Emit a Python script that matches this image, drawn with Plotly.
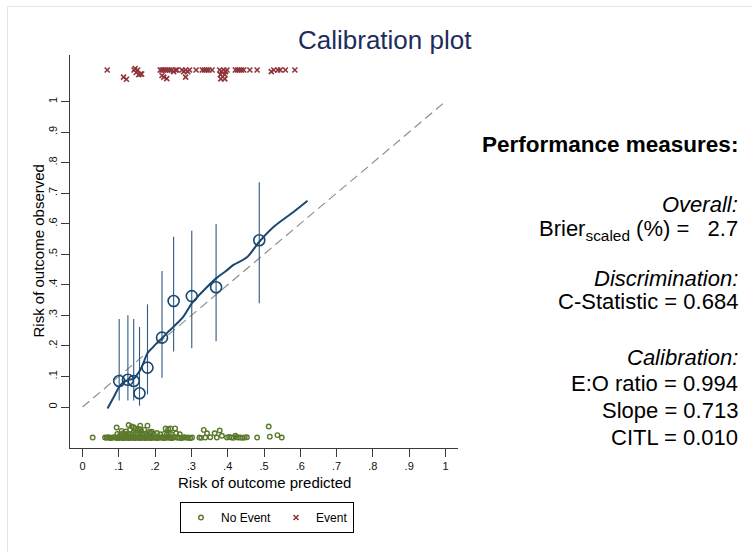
import plotly.graph_objects as go

W, H = 752, 552
FONT = "Liberation Sans, Arial, Helvetica, sans-serif"

# Grouped calibration points: mean predicted risk, observed proportion, 95% CI
group_pred = [0.101, 0.125, 0.141, 0.157, 0.179, 0.219, 0.251, 0.301, 0.368, 0.487]
group_obs = [0.085, 0.089, 0.085, 0.045, 0.129, 0.227, 0.347, 0.363, 0.392, 0.546]
group_lo = [0.021, 0.021, 0.021, 0.004, 0.041, 0.096, 0.182, 0.192, 0.215, 0.340]
group_hi = [0.288, 0.300, 0.288, 0.262, 0.336, 0.445, 0.557, 0.577, 0.599, 0.736]

# Lowess-smoothed calibration curve
smooth_x = [0.069, 0.085, 0.101, 0.113, 0.125, 0.141, 0.150, 0.159, 0.169, 0.179,
            0.195, 0.207, 0.219, 0.235, 0.251, 0.278, 0.301, 0.318, 0.335, 0.368,
            0.395, 0.416, 0.453, 0.487, 0.527, 0.582, 0.620]
smooth_y = [-0.005, 0.030, 0.066, 0.082, 0.088, 0.093, 0.105, 0.121, 0.148, 0.176,
            0.197, 0.212, 0.225, 0.245, 0.263, 0.296, 0.339, 0.362, 0.383, 0.421,
            0.445, 0.465, 0.490, 0.541, 0.590, 0.639, 0.675]

# Reference line of perfect calibration
ref_x = [0, 1]
ref_y = [0, 1]

# Rug of predicted risks for patients with the event (jittered above the plot)
event_x = [0.068, 0.113, 0.121,
           0.142, 0.145, 0.148, 0.152, 0.155, 0.160, 0.163,
           0.214, 0.219, 0.224, 0.229, 0.234, 0.240, 0.246, 0.251, 0.256, 0.260,
           0.219, 0.224, 0.232,
           0.274, 0.279, 0.284, 0.290, 0.295, 0.284,
           0.313, 0.330, 0.336, 0.342, 0.348, 0.357,
           0.378, 0.383, 0.389, 0.394, 0.398, 0.380, 0.392, 0.381, 0.392,
           0.421, 0.427, 0.432, 0.438, 0.444, 0.461, 0.481,
           0.520, 0.527, 0.538, 0.545, 0.559, 0.585]
event_y = [1.103, 1.080, 1.073,
           1.103, 1.108, 1.095, 1.103, 1.088, 1.090, 1.090,
           1.103, 1.103, 1.103, 1.103, 1.103, 1.103, 1.103, 1.098, 1.103, 1.103,
           1.085, 1.080, 1.075,
           1.103, 1.098, 1.103, 1.098, 1.103, 1.080,
           1.103, 1.103, 1.103, 1.103, 1.103, 1.103,
           1.103, 1.098, 1.103, 1.098, 1.103, 1.088, 1.088, 1.074, 1.074,
           1.103, 1.103, 1.103, 1.103, 1.103, 1.103, 1.103,
           1.098, 1.103, 1.103, 1.103, 1.103, 1.103]

# Rug of predicted risks for patients without the event (jittered below the plot)
noevent_x = [0.028, 0.062, 0.066, 0.070, 0.074, 0.078, 0.083, 0.088, 0.092, 0.095,
             0.098, 0.101, 0.104, 0.107, 0.110, 0.113, 0.116, 0.119, 0.122, 0.125,
             0.128, 0.131, 0.134, 0.137, 0.140, 0.143, 0.146, 0.149, 0.152, 0.155,
             0.158, 0.161, 0.164, 0.167, 0.170, 0.173, 0.176, 0.179, 0.182, 0.185,
             0.188, 0.191, 0.194, 0.198, 0.202, 0.206, 0.210, 0.214, 0.218, 0.222,
             0.226, 0.230, 0.234, 0.238, 0.242, 0.246, 0.250, 0.255, 0.262, 0.267,
             0.272, 0.277, 0.282, 0.287, 0.292, 0.297, 0.302, 0.322, 0.327, 0.338,
             0.352, 0.370, 0.398, 0.404, 0.410, 0.416, 0.424, 0.430, 0.436, 0.441,
             0.447, 0.453, 0.481, 0.549,
             0.096, 0.104, 0.112, 0.118, 0.126, 0.133, 0.139, 0.146, 0.152, 0.158,
             0.165, 0.172, 0.180, 0.188, 0.196, 0.205, 0.214, 0.226, 0.232, 0.238,
             0.244, 0.258, 0.268, 0.343, 0.364, 0.384, 0.421, 0.516, 0.537,
             0.108, 0.120, 0.131, 0.145, 0.150, 0.156, 0.162, 0.170, 0.185, 0.191,
             0.229, 0.236, 0.242, 0.255, 0.334, 0.378,
             0.094, 0.127, 0.136, 0.141, 0.159, 0.179, 0.513]
noevent_y = [-0.100, -0.100, -0.101, -0.099, -0.100, -0.102, -0.100, -0.099, -0.101, -0.100,
             -0.102, -0.100, -0.099, -0.101, -0.100, -0.102, -0.100, -0.099, -0.101, -0.100,
             -0.102, -0.100, -0.099, -0.101, -0.100, -0.102, -0.100, -0.099, -0.101, -0.100,
             -0.102, -0.100, -0.099, -0.101, -0.100, -0.102, -0.100, -0.099, -0.101, -0.100,
             -0.102, -0.100, -0.099, -0.101, -0.100, -0.102, -0.100, -0.099, -0.101, -0.100,
             -0.102, -0.100, -0.099, -0.101, -0.100, -0.102, -0.100, -0.099, -0.101, -0.100,
             -0.102, -0.100, -0.099, -0.101, -0.100, -0.102, -0.100, -0.100, -0.101, -0.100,
             -0.099, -0.100, -0.100, -0.098, -0.100, -0.101, -0.099, -0.100, -0.100, -0.101,
             -0.100, -0.099, -0.100, -0.100,
             -0.088, -0.090, -0.086, -0.089, -0.087, -0.090, -0.085, -0.088, -0.090, -0.086,
             -0.089, -0.087, -0.090, -0.086, -0.088, -0.085, -0.089, -0.087, -0.090, -0.086,
             -0.088, -0.086, -0.089, -0.086, -0.086, -0.094, -0.094, -0.097, -0.092,
             -0.078, -0.080, -0.074, -0.070, -0.076, -0.072, -0.079, -0.075, -0.081, -0.081,
             -0.070, -0.072, -0.070, -0.070, -0.075, -0.077,
             -0.067, -0.059, -0.064, -0.066, -0.061, -0.061, -0.064]

tick_vals = [0, 0.1, 0.2, 0.3, 0.4, 0.5, 0.6, 0.7, 0.8, 0.9, 1]
tick_text = ["0", ".1", ".2", ".3", ".4", ".5", ".6", ".7", ".8", ".9", "1"]

NAVY = "#1a476f"
GREEN = "#5b7a2c"
MAROON = "#90353b"


def px_x(x):
    return x / W


def px_y(y):
    return 1 - y / H


fig = go.Figure()

fig.add_trace(go.Scatter(
    x=ref_x, y=ref_y, mode="lines",
    line=dict(color="#8a8a8a", width=1.1, dash="9px,5px"),
    showlegend=False, hoverinfo="skip"))

fig.add_trace(go.Scatter(
    x=group_pred, y=group_obs, mode="markers",
    marker=dict(symbol="circle-open", size=11, color=NAVY, line=dict(width=1.6, color=NAVY)),
    error_y=dict(type="data", symmetric=False,
                 array=[h - o for h, o in zip(group_hi, group_obs)],
                 arrayminus=[o - l for o, l in zip(group_obs, group_lo)],
                 width=0, thickness=1.1, color="#2e5a85"),
    showlegend=False))

fig.add_trace(go.Scatter(
    x=smooth_x, y=smooth_y, mode="lines", line_shape="spline",
    line=dict(color=NAVY, width=2),
    showlegend=False))

fig.add_trace(go.Scatter(
    x=noevent_x, y=noevent_y, mode="markers", name="No Event",
    marker=dict(symbol="circle-open", size=4.5, color=GREEN, line=dict(width=1.4, color=GREEN))))

fig.add_trace(go.Scatter(
    x=event_x, y=event_y, mode="markers", name="Event",
    marker=dict(symbol="x-thin-open", size=5, color=MAROON, line=dict(width=1.6, color=MAROON))))

axis_common = dict(
    showline=True, linecolor="#3a3a3a", linewidth=1.2,
    ticks="outside", ticklen=8, tickwidth=1.2, tickcolor="#3a3a3a",
    tickvals=tick_vals, ticktext=tick_text,
    tickfont=dict(family=FONT, size=11, color="#111"),
    showgrid=False, zeroline=False, automargin=False,
)

fig.update_layout(
    width=W, height=H,
    margin=dict(l=0, r=0, t=0, b=0),
    paper_bgcolor="white", plot_bgcolor="white",
    font=dict(family=FONT, color="#000"),
    xaxis=dict(domain=[px_x(70), px_x(458)], range=[-0.0345, 1.0345], **axis_common),
    yaxis=dict(domain=[px_y(448), px_y(55)], range=[-0.1342, 1.1522], tickangle=-90,
               **axis_common),
    legend=dict(orientation="h", x=px_x(267), xanchor="center", y=px_y(502), yanchor="top",
                bordercolor="#000", borderwidth=1, bgcolor="white",
                font=dict(family=FONT, size=12, color="#000"),
                itemwidth=30),
    showlegend=True,
)

annotations = [
    dict(text="Calibration plot", x=px_x(385), y=px_y(40),
         font=dict(size=26, color="#1c2d5b")),
    dict(text="Risk of outcome predicted", x=px_x(264), y=px_y(482),
         font=dict(size=15)),
    dict(text="Risk of outcome observed", x=px_x(38), y=px_y(251.5), textangle=-90,
         font=dict(size=15)),
]

panel = [
    ("<b>Performance measures:</b>", 145, 22.5),
    ("<i>Overall:</i>", 204, 22),
    ("Brier<sub>scaled</sub> (%) =\u00a0\u00a0\u00a02.7", 230, 22),
    ("<i>Discrimination:</i>", 278, 22),
    ("C-Statistic = 0.684", 301, 22),
    ("<i>Calibration:</i>", 357, 22),
    ("E:O ratio = 0.994", 383, 22),
    ("Slope = 0.713", 410, 22),
    ("CITL = 0.010", 437, 22),
]
for txt, ypx, size in panel:
    annotations.append(dict(text=txt, x=px_x(740), y=px_y(ypx), xanchor="right",
                            font=dict(size=size)))

for a in annotations:
    a.setdefault("xanchor", "center")
    a.update(xref="paper", yref="paper", yanchor="middle", showarrow=False)
    a["font"] = dict(family=FONT, color=a["font"].get("color", "#000"), size=a["font"]["size"])

fig.update_layout(annotations=annotations)

# faint outer frame of the graph region
fig.add_shape(type="line", xref="paper", yref="paper",
              x0=px_x(7.5), x1=px_x(7.5), y0=0, y1=px_y(6.5),
              line=dict(color="#dde6ec", width=1))
fig.add_shape(type="line", xref="paper", yref="paper",
              x0=px_x(7.5), x1=1, y0=px_y(6.5), y1=px_y(6.5),
              line=dict(color="#dde6ec", width=1))

fig.write_html("out.html")
